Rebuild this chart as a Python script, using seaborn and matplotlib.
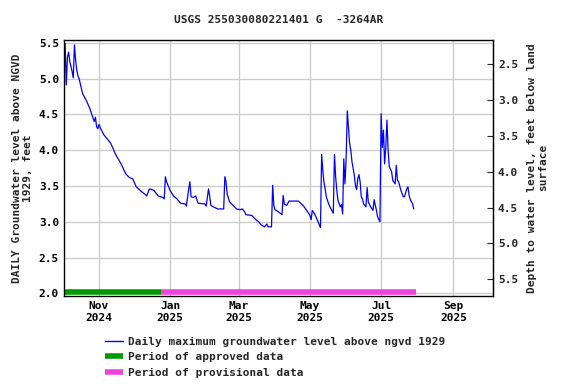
import matplotlib
matplotlib.use("Agg")
import matplotlib.pyplot as plt
import matplotlib.dates as mdates
from matplotlib.lines import Line2D
import pandas as pd
import seaborn as sns

# Daily maximum groundwater level (ft above NGVD 1929)
dates = [
    "2024-10-03", "2024-10-04", "2024-10-05", "2024-10-06", "2024-10-07", "2024-10-08",
    "2024-10-09", "2024-10-10", "2024-10-11", "2024-10-12", "2024-10-13", "2024-10-14",
    "2024-10-15", "2024-10-17", "2024-10-18", "2024-10-21", "2024-10-24", "2024-10-27",
    "2024-10-28", "2024-10-29", "2024-10-30", "2024-10-31", "2024-11-01", "2024-11-02",
    "2024-11-05", "2024-11-08", "2024-11-11", "2024-11-13", "2024-11-15", "2024-11-20",
    "2024-11-24", "2024-11-27", "2024-11-30", "2024-12-03", "2024-12-07", "2024-12-11",
    "2024-12-12", "2024-12-14", "2024-12-15", "2024-12-18", "2024-12-22", "2024-12-26",
    "2024-12-27", "2024-12-28", "2024-12-29", "2025-01-01", "2025-01-04", "2025-01-07",
    "2025-01-10", "2025-01-14", "2025-01-15", "2025-01-17", "2025-01-18", "2025-01-19",
    "2025-01-21", "2025-01-23", "2025-01-25", "2025-01-31", "2025-02-01", "2025-02-03",
    "2025-02-04", "2025-02-05", "2025-02-07", "2025-02-11", "2025-02-16", "2025-02-17",
    "2025-02-18", "2025-02-19", "2025-02-21", "2025-02-24", "2025-02-27", "2025-03-02",
    "2025-03-04", "2025-03-06", "2025-03-07", "2025-03-12", "2025-03-15", "2025-03-18",
    "2025-03-20", "2025-03-23", "2025-03-25", "2025-03-26", "2025-03-29", "2025-03-30",
    "2025-03-31", "2025-04-01", "2025-04-04", "2025-04-07", "2025-04-08", "2025-04-09",
    "2025-04-11", "2025-04-13", "2025-04-21", "2025-04-25", "2025-04-26", "2025-04-29",
    "2025-05-01", "2025-05-02", "2025-05-03", "2025-05-05", "2025-05-08", "2025-05-10",
    "2025-05-11", "2025-05-12", "2025-05-13", "2025-05-14", "2025-05-15", "2025-05-17",
    "2025-05-19", "2025-05-21", "2025-05-22", "2025-05-23", "2025-05-24", "2025-05-25",
    "2025-05-27", "2025-05-28", "2025-05-29", "2025-05-30", "2025-05-31", "2025-06-01",
    "2025-06-02", "2025-06-03", "2025-06-04", "2025-06-05", "2025-06-06", "2025-06-07",
    "2025-06-08", "2025-06-09", "2025-06-10", "2025-06-11", "2025-06-12", "2025-06-13",
    "2025-06-14", "2025-06-15", "2025-06-16", "2025-06-18", "2025-06-19", "2025-06-20",
    "2025-06-22", "2025-06-24", "2025-06-25", "2025-06-27", "2025-06-28", "2025-06-30",
    "2025-07-01", "2025-07-02", "2025-07-03", "2025-07-04", "2025-07-05", "2025-07-06",
    "2025-07-07", "2025-07-08", "2025-07-10", "2025-07-11", "2025-07-13", "2025-07-14",
    "2025-07-15", "2025-07-16", "2025-07-18", "2025-07-20", "2025-07-21", "2025-07-23",
    "2025-07-24", "2025-07-25", "2025-07-26", "2025-07-28", "2025-07-29",
]
levels = [
    5.49, 4.91, 5.30, 5.37, 5.24, 5.17,
    5.10, 5.01, 5.47, 5.26, 5.12, 5.04,
    5.00, 4.86, 4.79, 4.70, 4.59, 4.45,
    4.40, 4.46, 4.33, 4.30, 4.36, 4.32,
    4.22, 4.16, 4.10, 4.03, 3.95, 3.81,
    3.67, 3.62, 3.60, 3.49, 3.43, 3.38,
    3.36, 3.45, 3.46, 3.44, 3.36, 3.34,
    3.32, 3.63, 3.56, 3.44, 3.36, 3.32,
    3.26, 3.25, 3.22, 3.46, 3.56, 3.35,
    3.34, 3.36, 3.26, 3.25, 3.22, 3.46,
    3.36, 3.23, 3.21, 3.18, 3.18, 3.63,
    3.56, 3.39, 3.28, 3.23, 3.18, 3.17,
    3.18, 3.14, 3.10, 3.09, 3.04, 3.00,
    2.96, 2.93, 2.97, 2.93, 2.93, 3.51,
    3.23, 3.17, 3.14, 3.10, 3.37, 3.25,
    3.23, 3.29, 3.29, 3.23, 3.21, 3.14,
    3.09, 3.03, 3.16, 3.11, 3.00, 2.92,
    3.94, 3.72, 3.55, 3.46, 3.35, 3.25,
    3.18, 3.12, 3.94, 3.63, 3.44, 3.30,
    3.21, 3.24, 3.11, 3.88, 3.53, 3.88,
    4.55, 4.32, 4.09, 4.00, 3.84, 3.75,
    3.65, 3.51, 3.45, 3.60, 3.66, 3.56,
    3.35, 3.32, 3.25, 3.21, 3.48, 3.28,
    3.21, 3.16, 3.31, 3.16, 3.07, 3.00,
    4.51, 4.04, 4.28, 3.81, 4.04, 4.42,
    4.00, 3.77, 3.70, 3.58, 3.53, 3.79,
    3.58, 3.56, 3.44, 3.35, 3.35, 3.46,
    3.49, 3.37, 3.31, 3.25, 3.18,
]

# data-approval periods
approved_period = ["2024-10-02", "2024-12-24"]
provisional_period = ["2024-12-24", "2025-07-31"]

# depth below land surface = land_surface - level
land_surface = 7.70

title = "USGS 255030080221401 G  -3264AR"
left_label = "DAILY Groundwater level above NGVD\n1929, feet"
right_label = "Depth to water level, feet below land\nsurface"
legend_labels = [
    "Daily maximum groundwater level above ngvd 1929",
    "Period of approved data",
    "Period of provisional data",
]

green = "#009900"
pink = "#ee44dd"

sns.set_style("white")
plt.rcParams["font.family"] = ["DejaVu Sans Mono"]
plt.rcParams["font.weight"] = "bold"
plt.rcParams["axes.titleweight"] = "bold"
plt.rcParams["axes.labelweight"] = "bold"
plt.rcParams["font.size"] = 8

df = pd.DataFrame({"date": pd.to_datetime(dates), "level": levels})

fig, ax = plt.subplots(figsize=(5.76, 3.84), dpi=100)
fig.subplots_adjust(left=0.111, right=0.856, top=0.897, bottom=0.229)

sns.lineplot(data=df, x="date", y="level", ax=ax, color="#0000ff", linewidth=0.9)

bar_y = 2.02
ax.hlines(bar_y, pd.Timestamp(approved_period[0]), pd.Timestamp(approved_period[1]),
          color=green, linewidth=4, capstyle="butt")
ax.hlines(bar_y, pd.Timestamp(provisional_period[0]), pd.Timestamp(provisional_period[1]),
          color=pink, linewidth=4, capstyle="butt")

ax.set_xlim(pd.Timestamp("2024-10-02"), pd.Timestamp("2025-10-05"))
ax.set_ylim(1.964, 5.545)
ax.set_yticks([2.0, 2.5, 3.0, 3.5, 4.0, 4.5, 5.0, 5.5])
ax.yaxis.set_major_formatter(matplotlib.ticker.FormatStrFormatter("%.1f"))
ax.xaxis.set_major_locator(mdates.MonthLocator(bymonth=[1, 3, 5, 7, 9, 11]))
ax.xaxis.set_major_formatter(mdates.DateFormatter("%b\n%Y"))
ax.grid(True, color="#cccccc", linewidth=1)
ax.tick_params(direction="in", length=4, colors="black", labelsize=8)
ax.set_xlabel("")
ax.set_ylabel(left_label, fontsize=8, labelpad=4)
for s in ax.spines.values():
    s.set_color("black")
    s.set_linewidth(1)

sec = ax.secondary_yaxis("right", functions=(lambda v: land_surface - v,
                                              lambda v: land_surface - v))
sec.set_yticks([2.5, 3.0, 3.5, 4.0, 4.5, 5.0, 5.5])
sec.yaxis.set_major_formatter(matplotlib.ticker.FormatStrFormatter("%.1f"))
sec.tick_params(direction="in", length=4, labelsize=8)
sec.set_ylabel(right_label, fontsize=8, labelpad=6)

ax.set_title(title, fontsize=8, pad=12)

handles = [
    Line2D([], [], color="#0000ff", linewidth=1),
    Line2D([], [], color=green, linewidth=4, solid_capstyle="butt"),
    Line2D([], [], color=pink, linewidth=4, solid_capstyle="butt"),
]
fig.legend(handles, legend_labels, loc="upper left", bbox_to_anchor=(0.173, 0.138),
           frameon=False, fontsize=8, handlelength=1.6, handletextpad=0.45,
           labelspacing=0.5, borderpad=0)

fig.savefig("out.png", dpi=100)
